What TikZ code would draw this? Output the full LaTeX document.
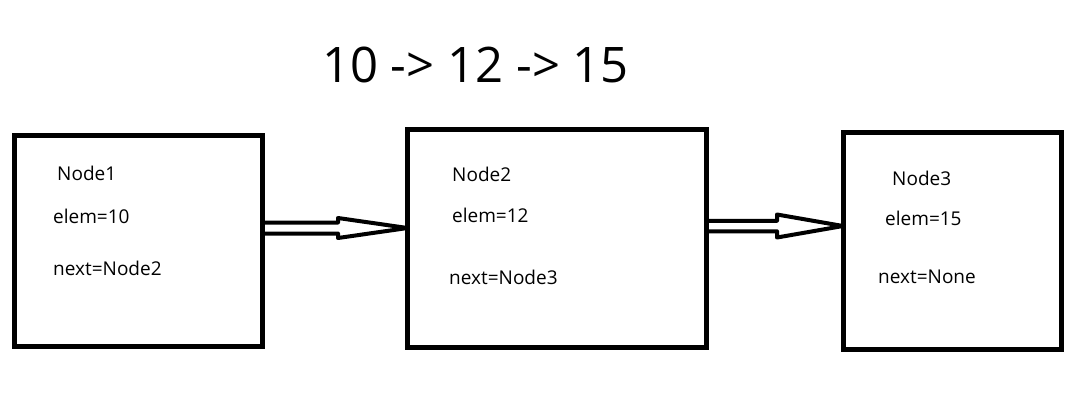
\documentclass[tikz,border=0pt]{standalone}
\usepackage{fontspec}
\setmainfont{Open Sans}
\usetikzlibrary{positioning,calc}

\begin{document}
\begin{tikzpicture}[
        x=1pt, y=-1pt,
        box/.style={draw=black, line width=5pt, inner sep=0pt, outer sep=0pt},
        field/.style={anchor=base west, inner sep=0pt, font=\fontsize{19}{22}\selectfont},
        title/.style={anchor=base west, inner sep=0pt, font=\fontsize{49}{56}\selectfont},
        shaft/.style={draw=black, line width=4pt, line join=round}
    ]
    \useasboundingbox (0,0) rectangle (1087,405);

    % the list as one line
    \node[title] (chain) at (322,82) {10 -> 12 -> 15};

    % the three list nodes
    \node[box, minimum width=248, minimum height=210.5] (box1) at (138,240.75) {};
    \node[box, minimum width=299, minimum height=218.5] (box2) at (557,238.25) {};
    \node[box, minimum width=218, minimum height=217.3] (box3) at (952,240.7) {};

    % their fields
    \node[field] (name1) at (57,180) {Node1};
    \node[field] (elem1) at (53,223) {elem=10};
    \node[field] (next1) at (53,275) {next=Node2};
    \node[field] (name2) at (452,181) {Node2};
    \node[field] (elem2) at (452,222) {elem=12};
    \node[field] (next2) at (449,284) {next=Node3};
    \node[field] (name3) at (892,185) {Node3};
    \node[field] (elem3) at (885,225) {elem=15};
    \node[field] (next3) at (878,283) {next=None};

    % hollow arrows between the boxes
    \path (box1.east) ++(0,-12.75) coordinate (a1s);
    \path (box2.west) ++(0,-10.25) coordinate (a1t);
    \coordinate (a1h) at (338,228);
    \draw[shaft] ($(a1s)+(0,-5.5)$) -- ($(a1h)+(0,-5.5)$) -- ($(a1h)+(0,-10)$) -- (a1t)
        -- ($(a1h)+(0,10)$) -- ($(a1h)+(0,5.5)$) -- ($(a1s)+(0,5.5)$);

    \path (box2.east) ++(0,-12.25) coordinate (a2s);
    \path (box3.west) ++(0,-14.7) coordinate (a2t);
    \coordinate (a2h) at (777,226);
    \draw[shaft] ($(a2s)+(0,-5.25)$) -- ($(a2h)+(0,-5.25)$) -- ($(a2h)+(0,-11.5)$) -- (a2t)
        -- ($(a2h)+(0,11.5)$) -- ($(a2h)+(0,5.25)$) -- ($(a2s)+(0,5.25)$);
\end{tikzpicture}
\end{document}
